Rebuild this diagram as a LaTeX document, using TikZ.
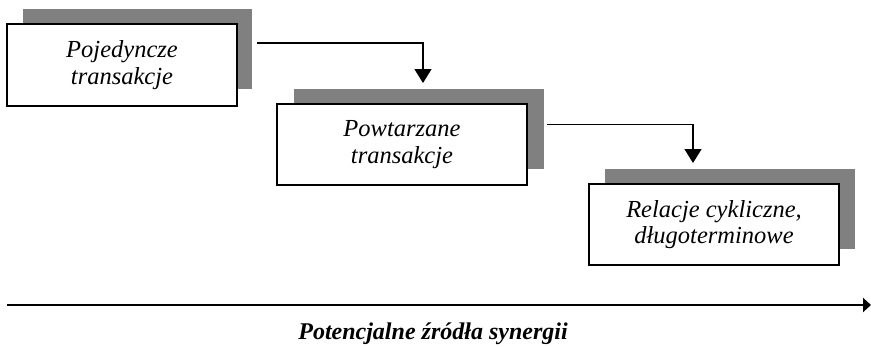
\documentclass[tikz,border=0pt]{standalone}
\usepackage{fontspec}
\setmainfont{Liberation Serif}
\usetikzlibrary{arrows.meta}
\definecolor{shadowgray}{HTML}{808080}
\tikzset{
  box/.style={draw=black, line width=1.2pt, fill=white, minimum height=81pt, inner sep=0pt,
    align=center, font=\fontsize{24.5}{26.5}\selectfont\itshape},
  shadowbox/.style={fill=shadowgray, draw=none, minimum height=80pt, inner sep=0pt},
  conn/.style={line width=1.4pt, -{Triangle[width=17pt,length=14pt]}},
  axis/.style={line width=2pt, -{Triangle[width=14pt,length=8pt]}}
}
\begin{document}
\begin{tikzpicture}[x=1pt,y=-1pt]
\useasboundingbox (0,0) rectangle (871,346);
% shadows
\node[shadowbox, minimum width=229pt] (sh1) at (137.5,49) {};
\node[shadowbox, minimum width=250pt] (sh2) at (419,128.5) {};
\node[shadowbox, minimum width=250pt] (sh3) at (730,209) {};
% boxes
\node[box, minimum width=230pt, minimum height=82pt] (b1) at (122,65) {Pojedyncze\\transakcje};
\node[box, minimum width=250pt] (b2) at (402,144.5) {Powtarzane\\transakcje};
\node[box, minimum width=250pt] (b3) at (714,224.5) {Relacje cykliczne,\\długoterminowe};
% connectors
\coordinate (c1s) at (257,43);
\coordinate (c1e) at (423,83);
\coordinate (c2s) at (547,124.5);
\coordinate (c2e) at (693,163);
\draw[conn] (c1s) -| (c1e);
\draw[conn] (c2s) -| (c2e);
% axis
\coordinate (ax1) at (7,305);
\coordinate (ax2) at (871,305);
\draw[axis] (ax1) -- (ax2);
\node[anchor=base, font=\fontsize{24}{24}\selectfont\bfseries\itshape, inner sep=0pt] (lab) at (433,339) {Potencjalne źródła synergii};
\end{tikzpicture}
\end{document}
